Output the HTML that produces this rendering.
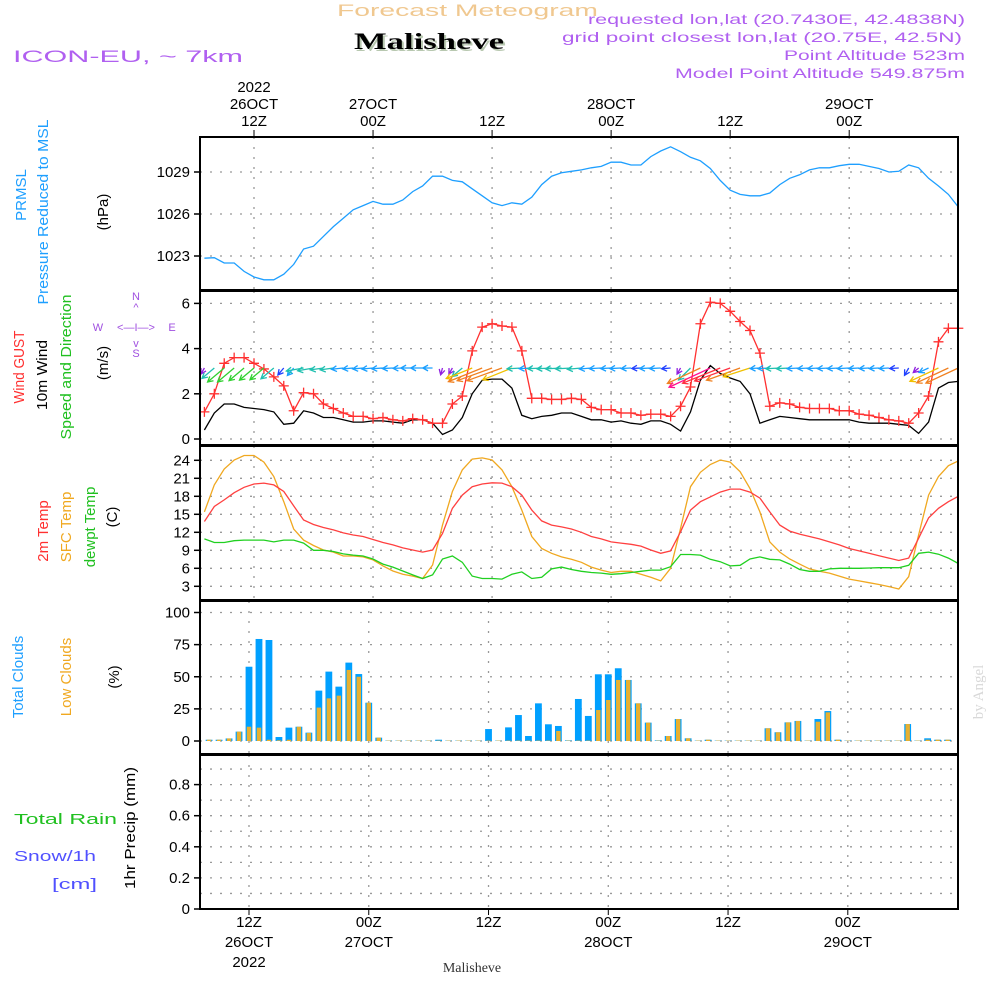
<!DOCTYPE html>
<html><head><meta charset="utf-8"><style>
html,body{margin:0;padding:0;background:#fff;}
svg{display:block;font-family:"Liberation Sans",sans-serif;}
</style></head><body>
<svg id="chart" width="1000" height="1000" viewBox="0 0 1000 1000" xmlns="http://www.w3.org/2000/svg">
<text x="337" y="16" font-size="17" fill="#f0c890" textLength="261" lengthAdjust="spacingAndGlyphs">Forecast Meteogram</text>
<text x="356" y="51" font-size="23" font-weight="bold" font-family="Liberation Serif,serif" fill="#b8c8b0" textLength="150" lengthAdjust="spacingAndGlyphs">Malisheve</text>
<text x="354" y="49" font-size="23" font-weight="bold" font-family="Liberation Serif,serif" fill="#000" textLength="150" lengthAdjust="spacingAndGlyphs">Malisheve</text>
<text x="13" y="62" font-size="17" fill="#b060f0" textLength="230" lengthAdjust="spacingAndGlyphs">ICON-EU, ~ 7km</text>
<g font-size="14" fill="#b060f0" text-anchor="end">
<text x="965" y="24" textLength="377" lengthAdjust="spacingAndGlyphs">requested lon,lat (20.7430E, 42.4838N)</text>
<text x="962" y="42" textLength="400" lengthAdjust="spacingAndGlyphs">grid point closest lon,lat (20.75E, 42.5N)</text>
<text x="965" y="60" textLength="181" lengthAdjust="spacingAndGlyphs">Point Altitude 523m</text>
<text x="965" y="78" textLength="290" lengthAdjust="spacingAndGlyphs">Model Point Altitude 549.875m</text>
</g>
<g id="grid"></g>
<g id="marks"></g>
<g id="frames"></g>
<g id="axes" font-size="15" fill="#000"></g>
<g id="labels">
<text transform="translate(26,195) rotate(-90)" font-size="15" fill="#1e9fff" text-anchor="middle">PRMSL</text>
<text transform="translate(48,212) rotate(-90)" font-size="15" fill="#1e9fff" text-anchor="middle" textLength="185" lengthAdjust="spacingAndGlyphs">Pressure Reduced to MSL</text>
<text transform="translate(108,212) rotate(-90)" font-size="15" fill="#000" text-anchor="middle">(hPa)</text>
<text transform="translate(24,367) rotate(-90)" font-size="15" fill="#ff3030" text-anchor="middle" textLength="73" lengthAdjust="spacingAndGlyphs">Wind GUST</text>
<text transform="translate(47,375) rotate(-90)" font-size="15" fill="#000" text-anchor="middle" textLength="70" lengthAdjust="spacingAndGlyphs">10m Wind</text>
<text transform="translate(71,367) rotate(-90)" font-size="15" fill="#20c020" text-anchor="middle" textLength="145" lengthAdjust="spacingAndGlyphs">Speed and Direction</text>
<text transform="translate(108,363) rotate(-90)" font-size="15" fill="#000" text-anchor="middle">(m/s)</text>
<g font-size="11" fill="#a050e0" text-anchor="middle">
<text x="136" y="300">N</text><text x="136" y="311">^</text>
<text x="98" y="331">W</text><text x="136" y="331">&lt;—I—&gt;</text><text x="172" y="331">E</text>
<text x="136" y="347">v</text><text x="136" y="357">S</text>
</g>
<text transform="translate(48,531) rotate(-90)" font-size="15" fill="#ff3030" text-anchor="middle">2m Temp</text>
<text transform="translate(71,527) rotate(-90)" font-size="15" fill="#f0a820" text-anchor="middle">SFC Temp</text>
<text transform="translate(95,527) rotate(-90)" font-size="15" fill="#20c020" text-anchor="middle">dewpt Temp</text>
<text transform="translate(117,517) rotate(-90)" font-size="15" fill="#000" text-anchor="middle">(C)</text>
<text transform="translate(23,677) rotate(-90)" font-size="15" fill="#1e9fff" text-anchor="middle">Total Clouds</text>
<text transform="translate(71,677) rotate(-90)" font-size="15" fill="#f0a820" text-anchor="middle">Low Clouds</text>
<text transform="translate(119,677) rotate(-90)" font-size="15" fill="#000" text-anchor="middle">(%)</text>
<text x="14" y="824" font-size="15" fill="#20c020" textLength="103" lengthAdjust="spacingAndGlyphs">Total   Rain</text>
<text x="14" y="861" font-size="15" fill="#5050ff" textLength="82" lengthAdjust="spacingAndGlyphs">Snow/1h</text>
<text x="52" y="889" font-size="15" fill="#5050ff" textLength="45" lengthAdjust="spacingAndGlyphs">[cm]</text>
<text transform="translate(135,828) rotate(-90)" font-size="15" fill="#000" text-anchor="middle" textLength="122" lengthAdjust="spacingAndGlyphs">1hr Precip (mm)</text>
<text x="472" y="972" font-size="14" font-family="Liberation Serif,serif" fill="#333" text-anchor="middle">Malisheve</text>
<text transform="translate(983,692) rotate(-90)" font-size="15" font-family="Liberation Serif,serif" fill="#d8d8d8" text-anchor="middle">by Angel</text>
</g>
</svg>
<script>
const hours = []; for (let t = 7; t <= 83; t++) hours.push(t);
const pressure = [1022.84,1022.88,1022.5,1022.5,1021.9,1021.5,1021.3,1021.3,1021.7,1022.4,1023.5,1023.7,1024.4,1025.1,1025.7,1026.3,1026.6,1026.9,1026.7,1026.7,1027.0,1027.6,1028.0,1028.7,1028.7,1028.4,1028.3,1027.8,1027.3,1026.8,1026.6,1026.8,1026.7,1027.2,1028.1,1028.7,1028.95,1029.05,1029.15,1029.3,1029.4,1029.7,1029.7,1029.5,1029.5,1030.1,1030.5,1030.8,1030.45,1030.05,1029.8,1029.25,1028.4,1027.7,1027.4,1027.3,1027.3,1027.5,1028.1,1028.55,1028.8,1029.15,1029.3,1029.3,1029.45,1029.55,1029.55,1029.4,1029.25,1029.0,1029.05,1029.5,1029.3,1028.55,1028.0,1027.4,1026.5];
const gust = [1.2,2.0,3.35,3.6,3.6,3.35,3.1,2.75,2.35,1.25,2.05,2.0,1.55,1.35,1.15,1.0,1.0,0.9,0.95,0.85,0.8,0.9,0.85,0.7,0.7,1.55,1.9,3.9,4.95,5.1,5.0,4.95,3.9,1.8,1.8,1.75,1.75,1.8,1.75,1.4,1.3,1.3,1.15,1.15,1.05,1.1,1.1,1.0,1.45,2.3,5.1,6.05,6.0,5.65,5.2,4.8,3.8,1.45,1.6,1.55,1.4,1.35,1.35,1.35,1.25,1.25,1.1,1.05,0.95,0.85,0.8,0.7,1.15,1.9,4.3,4.9,4.9];
const wind10 = [0.4,1.15,1.55,1.55,1.4,1.35,1.3,1.2,0.65,0.7,1.25,1.15,0.95,0.95,0.85,0.75,0.75,0.8,0.8,0.75,0.7,0.85,0.85,0.7,0.2,0.4,0.95,2.0,2.6,2.65,2.65,2.25,1.05,0.9,1.0,1.05,1.15,1.15,1.0,0.85,0.85,0.75,0.8,0.7,0.65,0.8,0.8,0.65,0.35,1.2,2.6,3.25,2.9,2.7,2.55,2.0,0.7,0.85,1.0,0.95,0.9,0.85,0.85,0.85,0.85,0.85,0.75,0.7,0.7,0.7,0.65,0.6,0.25,0.75,2.25,2.5,2.55];
const windAngle = [60,40,40,40,40,40,40,40,50,50,10,10,8,8,6,5,5,5,4,3,2,0,0,0,75,60,40,22,22,20,20,22,3,3,3,3,3,3,5,5,3,3,3,3,3,3,3,5,60,45,25,25,22,20,20,18,3,3,3,3,3,3,3,3,3,3,3,3,3,3,3,60,40,25,25,25,25];
const temp2m = [13.8,16.3,17.4,18.6,19.5,20.05,20.2,19.9,18.8,16.4,14.05,13.3,12.8,12.4,11.9,11.55,11.3,10.8,10.3,9.9,9.4,9.05,8.7,9.05,11.8,16.0,18.2,19.6,20.05,20.25,20.2,19.6,18.2,15.7,13.9,13.2,12.9,12.55,12.0,11.3,10.9,10.4,10.2,10.0,9.7,9.05,8.5,8.9,12.1,15.7,17.1,17.9,18.7,19.2,19.2,18.7,17.7,15.4,13.2,12.2,11.7,11.3,10.9,10.4,9.9,9.3,8.9,8.5,8.1,7.7,7.3,7.7,11.0,14.4,16.0,17.1,18.0];
const tempSfc = [15.4,19.9,22.55,24.05,24.8,24.8,23.7,21.3,17.1,12.55,10.7,9.8,9.05,8.7,8.05,8.05,7.9,7.4,6.4,5.55,5.0,4.7,4.3,6.55,13.2,18.8,22.4,24.2,24.4,24.05,22.4,19.6,15.7,11.3,9.3,8.5,7.9,7.5,7.0,6.2,5.7,5.3,5.5,5.5,5.0,4.5,3.9,6.0,12.7,19.6,22.0,23.3,24.05,23.7,22.1,19.3,15.4,10.4,8.7,7.55,6.7,5.9,5.5,5.2,4.7,4.2,3.9,3.6,3.3,2.95,2.55,4.6,11.55,18.2,21.3,23.1,23.9];
const dewpt = [10.9,10.3,10.3,10.6,10.7,10.7,10.7,10.4,10.7,10.7,10.2,9.0,9.0,8.8,8.4,8.2,8.05,7.55,6.7,6.2,5.55,4.9,4.3,4.9,7.55,8.05,7.0,4.7,4.3,4.3,4.2,5.0,5.4,4.3,4.5,5.9,6.2,5.8,5.5,5.3,5.2,5.0,5.1,5.3,5.5,5.7,5.7,6.27,8.3,8.3,8.2,7.5,7.1,6.4,6.5,7.55,7.9,7.5,7.4,6.7,5.8,5.5,5.5,5.9,6.0,6.0,6.0,6.05,6.1,6.1,6.1,6.5,8.5,8.7,8.35,7.7,6.8];
const cloudHours = []; for (let t = 8; t <= 82; t++) cloudHours.push(t);
const totalClouds = [1,1,2,7.3,57.8,79.4,78.6,3.1,10.4,11.1,6.5,39.2,54,42.3,61,52.1,29.8,2.6,0.3,0.3,0.3,0.3,0.3,1,0.3,0.3,0.3,0.3,9.3,0.3,10.6,20.2,3.9,29.3,13,11.7,0.5,32.7,19.5,51.9,51.9,56.6,47.5,29.3,14.3,0.5,3.9,17.1,2.1,0.3,1,0.3,0.3,0.3,0.3,0.3,9.9,6.8,14.5,15.6,0.3,17.1,23.3,1,0.3,0.3,0.3,0.3,0.3,0.3,13.2,0.3,2.1,1,1];
const lowClouds = [1,1,2,7.3,11.1,10.4,1,0.5,1,11.1,6.3,26,33.2,35.3,55.3,50,29.8,2.6,0.3,0.3,0.3,0.3,0.3,0.3,0.3,0.3,0.3,0.3,0.3,0.3,0.3,0.3,0.3,0.3,0.3,7.8,0.3,0.3,0.3,24.1,31.9,47.5,47.5,29.3,14.3,0.3,3.9,17.1,2.1,0.3,1,0.3,0.3,0.3,0.3,0.3,9.9,6.8,14.5,15.6,0.3,15,22.3,1,0.3,0.3,0.3,0.3,0.3,0.3,13.2,0.3,1,1,1];
const precip = cloudHours.map(() => 0);
const pTicks = [1023,1026,1029];
const wTicks = [0,2,4,6];
const tTicks = [3,6,9,12,15,18,21,24];
const cTicks = [0,25,50,75,100];
const rTicks = [0,0.2,0.4,0.6,0.8];
const rGrid = [0.1,0.2,0.3,0.4,0.5,0.6,0.7,0.8,0.9];
const timeTicks = [12,24,36,48,60,72];
const topLabels = [["2022","26OCT","12Z"],["","27OCT","00Z"],["","","12Z"],["","28OCT","00Z"],["","","12Z"],["","29OCT","00Z"]];
const botLabels = [["12Z","26OCT","2022"],["00Z","27OCT",""],["12Z","",""],["00Z","28OCT",""],["12Z","",""],["00Z","29OCT",""]];

const X0 = 200, X1 = 958;
const xT = t => 254 + (t - 12) * 9.92;
const xB = t => 249 + (t - 12) * 9.98;
const yP = p => 172 - (p - 1029) * 14;
const yW = v => 439 - v * 22.6;
const yT = v => 586.3 - (v - 3) * 6.0;
const yC = v => 741 - v * 1.285;
const yR = v => 909 - v * 155.5;
const NS = "http://www.w3.org/2000/svg";
function mk(tag, attrs, parent) {
  const e = document.createElementNS(NS, tag);
  for (const k in attrs) e.setAttribute(k, attrs[k]);
  parent.appendChild(e); return e;
}
const grid = document.getElementById('grid');
const marks = document.getElementById('marks');
const frames = document.getElementById('frames');
const axes = document.getElementById('axes');
const panels = [[137,290],[291,445],[446,600],[601,754],[755,909]];
const dash = {stroke:'#999','stroke-width':1.3,'stroke-dasharray':'2 8'};
function hgrid(vals, f) {
  vals.forEach(v => {
    const l = mk('line', Object.assign({x1:X0,x2:X1,y1:f(v),y2:f(v)}, dash), grid);
    
    
  });
}
hgrid(pTicks, yP); hgrid(wTicks, yW); hgrid(tTicks, yT); hgrid(cTicks, yC); hgrid(rGrid, yR);
timeTicks.forEach(t => {
  [[0,2,xT],[3,4,xB]].forEach(([a,b,f]) => {
    for (let i = a; i <= b; i++) {
      const l = mk('line', Object.assign({x1:f(t),x2:f(t),y1:panels[i][0],y2:panels[i][1]}, dash), grid);
      
      
    }
  });
});
function ticks(vals, f, fmt) {
  vals.forEach(v => {
    const l = mk('line', {x1:194,x2:200,y1:f(v),y2:f(v),stroke:'#000','stroke-width':1.5}, axes);
    
    
    const tx = mk('text', {x:190,y:f(v)+5,'text-anchor':'end'}, axes);
    tx.textContent = fmt ? fmt(v) : v;
    
    
  });
}
ticks(pTicks, yP); ticks(wTicks, yW); ticks(tTicks, yT); ticks(cTicks, yC);
ticks(rTicks, yR, v => v === 0 ? '0' : v.toFixed(1));
timeTicks.forEach((t, i) => {
  const l = mk('line', {x1:xT(t),x2:xT(t),y1:130,y2:137,stroke:'#000','stroke-width':1}, axes);
  
  
  topLabels[i].forEach((s, j) => {
    if (!s) return;
    const tx = mk('text', {x:xT(t),y:92+j*17,'text-anchor':'middle'}, axes);
    tx.textContent = s;
    
    
  });
  const l2 = mk('line', {x1:xB(t),x2:xB(t),y1:909,y2:915,stroke:'#000','stroke-width':1}, axes);
  
  
  botLabels[i].forEach((s, j) => {
    if (!s) return;
    const tx = mk('text', {x:xB(t),y:927+j*20,'text-anchor':'middle'}, axes);
    tx.textContent = s;
    
    
  });
});
function line(vals, xs, xf, yf, color, name) {
  const pts = vals.map((v, i) => xf(xs[i]).toFixed(1) + ',' + yf(v).toFixed(1)).join(' ');
  const p = mk('polyline', {points:pts,fill:'none',stroke:color,'stroke-width':1.3}, marks);
  
  
}
line(pressure, hours, xT, yP, '#1e9fff', 'pressure-line');
line(wind10, hours, xT, yW, '#000', 'wind-10m-line');
line(gust, hours, xT, yW, '#ff3030', 'wind-gust-line');
gust.forEach((v, i) => {
  const x = xT(hours[i]), y = yW(v);
  const g = mk('path', {d:`M${x-5},${y}H${x+5}M${x},${y-5}V${y+5}`,stroke:'#ff3030','stroke-width':1.3}, marks);
  
  
});
function wcol(s) {
  if (s < 0.45) return '#9020e0';
  if (s < 0.7) return '#2040ff';
  if (s < 0.95) return '#1a9fff';
  if (s < 1.3) return '#20c0b0';
  if (s < 1.8) return '#30d030';
  if (s < 2.3) return '#f0c000';
  if (s < 2.7) return '#f08020';
  if (s < 3.0) return '#ff3040';
  return '#ff1090';
}
wind10.forEach((s, i) => {
  const x = xT(hours[i]), y = 368;
  const L = Math.max(7, 14 * s), a = windAngle[i] * Math.PI / 180;
  const hx = x - L * Math.cos(a), hy = y + L * Math.sin(a);
  const c = wcol(s);
  const ha = 0.5, hl = 6;
  const b1x = hx + hl * Math.cos(a - ha), b1y = hy - hl * Math.sin(a - ha);
  const b2x = hx + hl * Math.cos(a + ha), b2y = hy - hl * Math.sin(a + ha);
  const ar = mk('path', {d:`M${x},${y}L${hx},${hy}M${b1x},${b1y}L${hx},${hy}L${b2x},${b2y}`,stroke:c,'stroke-width':1.3,fill:'none'}, marks);
  
  
});
line(tempSfc, hours, xT, yT, '#f0a820', 'sfc-temp-line');
line(temp2m, hours, xT, yT, '#ff4040', 'temp-2m-line');
line(dewpt, hours, xT, yT, '#20d020', 'dewpt-line');
totalClouds.forEach((v, i) => {
  const x = xB(cloudHours[i]);
  const b = mk('rect', {x:x-3.4,y:yC(v),width:6.8,height:741-yC(v),fill:'#00a0ff'}, marks);
  
  
  const lv = lowClouds[i];
  const o = mk('rect', {x:x-2.2,y:yC(lv),width:4.4,height:741-yC(lv),fill:'#e8b030'}, marks);
  
  
});
precip.forEach((v, i) => {
  const x = xB(cloudHours[i]);
  const r = mk('rect', {x:x-3.4,y:yR(v)-1,width:6.8,height:Math.max(1.5,909-yR(v)),fill:'#20c020'}, marks);
  
  
});
panels.forEach((p, i) => {
  const r = mk('rect', {x:X0,y:p[0],width:X1-X0,height:p[1]-p[0],fill:'none',stroke:'#000','stroke-width':2}, frames);
  
  
});
</script>
</body></html>
